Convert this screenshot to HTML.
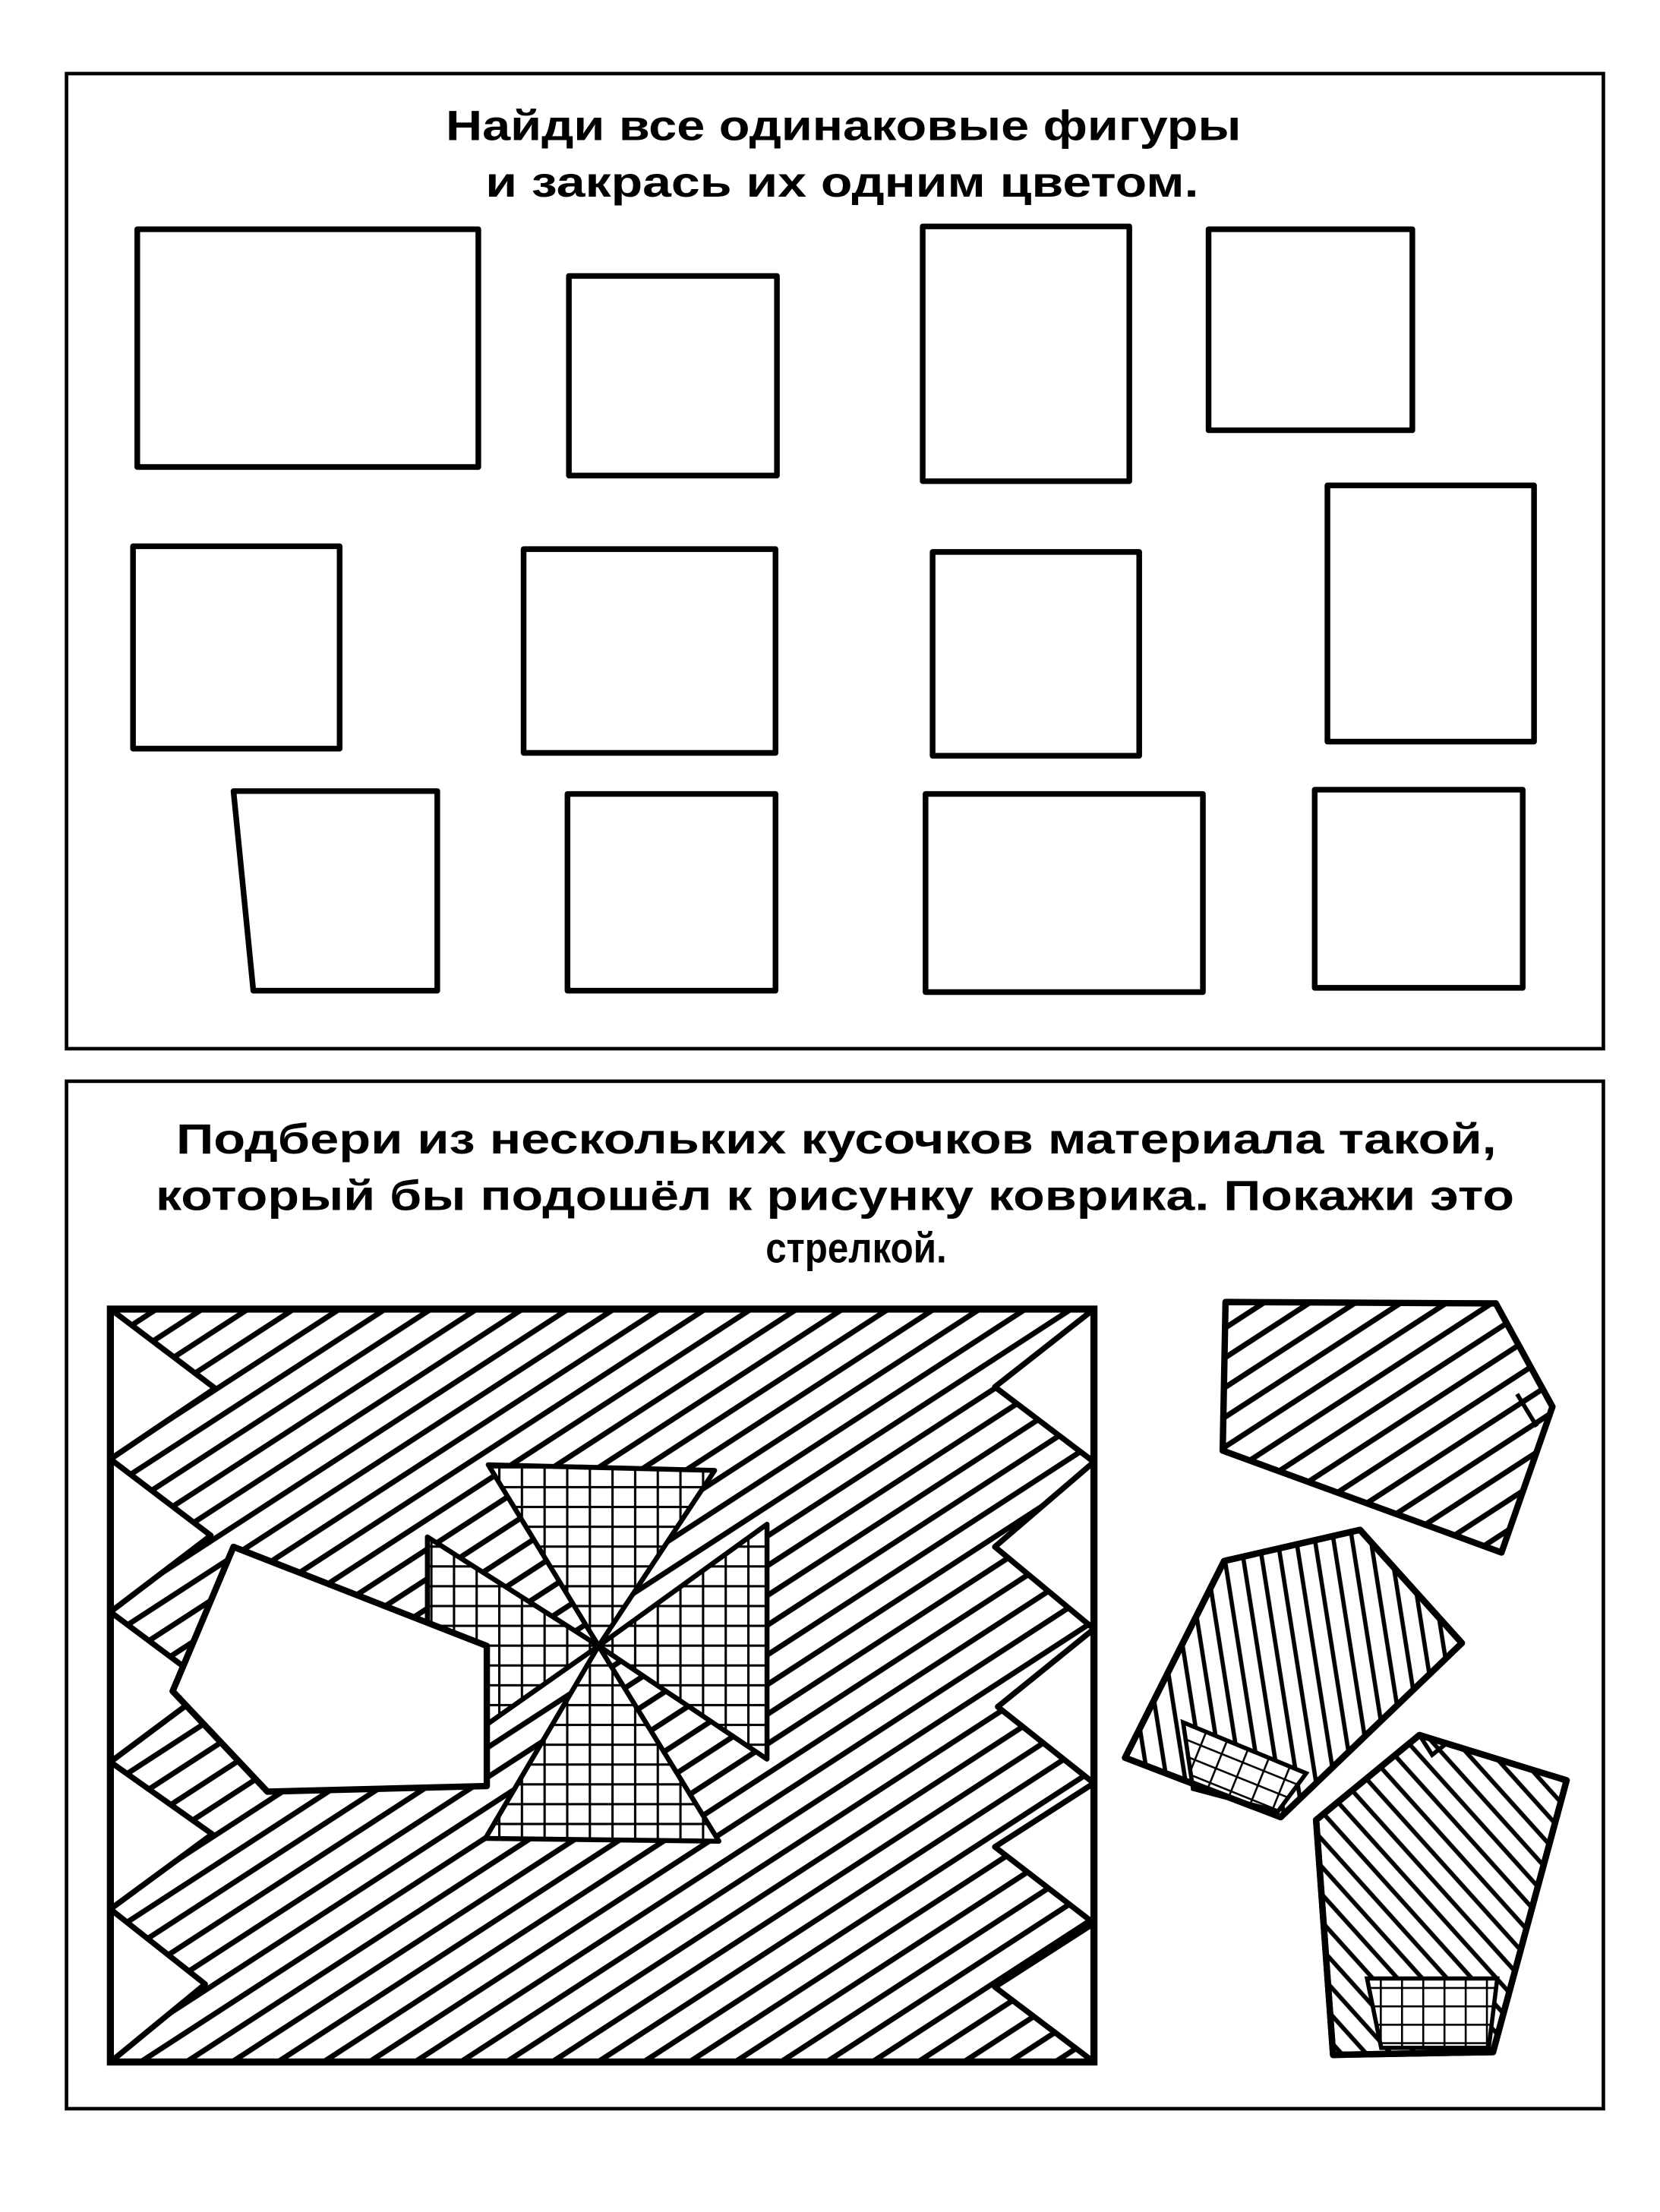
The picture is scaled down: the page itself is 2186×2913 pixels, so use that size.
<!DOCTYPE html>
<html><head><meta charset="utf-8"><style>
html,body{margin:0;padding:0;background:#fff;}
svg{display:block;}
text{font-family:"Liberation Sans","DejaVu Sans",sans-serif;font-weight:bold;fill:#000;}
</style></head><body>
<svg width="2186" height="2913" viewBox="0 0 1173 1563" preserveAspectRatio="none" xmlns="http://www.w3.org/2000/svg">
<defs>
<pattern id="h1" patternUnits="userSpaceOnUse" width="40" height="17.6" patternTransform="rotate(-33)">
<rect width="40" height="17.6" fill="#fff"/><line x1="0" y1="8.8" x2="40" y2="8.8" stroke="#000" stroke-width="3.8"/></pattern>
<pattern id="hv" patternUnits="userSpaceOnUse" width="13" height="40" patternTransform="rotate(-9)">
<rect width="13" height="40" fill="#fff"/><line x1="6.5" y1="0" x2="6.5" y2="40" stroke="#000" stroke-width="3"/></pattern>
<pattern id="hb" patternUnits="userSpaceOnUse" width="40" height="13" patternTransform="rotate(48)">
<rect width="40" height="13" fill="#fff"/><line x1="0" y1="6.5" x2="40" y2="6.5" stroke="#000" stroke-width="3"/></pattern>
<pattern id="g" patternUnits="userSpaceOnUse" width="16" height="14">
<rect width="16" height="14" fill="#fff"/><path d="M0 0H16M0 0V14" stroke="#000" stroke-width="3.3" fill="none"/></pattern>
<pattern id="g2" patternUnits="userSpaceOnUse" width="16" height="11" patternTransform="rotate(22)">
<rect width="16" height="11" fill="#fff"/><path d="M0 0H16M0 0V11" stroke="#000" stroke-width="2.8" fill="none"/></pattern>
<pattern id="g3" patternUnits="userSpaceOnUse" width="15" height="13">
<rect width="15" height="13" fill="#fff"/><path d="M0 0H15M0 0V13" stroke="#000" stroke-width="2.8" fill="none"/></pattern>
</defs>
<rect width="1173" height="1563" fill="#fff"/>
<rect x="47" y="52" width="1086" height="689" fill="none" stroke="#000" stroke-width="2.5"/>
<text x="596" y="99" font-size="30" text-anchor="middle" textLength="562" lengthAdjust="spacingAndGlyphs">Найди все одинаковые фигуры</text>
<text x="595" y="139" font-size="30" text-anchor="middle" textLength="504" lengthAdjust="spacingAndGlyphs">и закрась их одним цветом.</text>
<g fill="none" stroke="#000" stroke-width="4" stroke-linejoin="round">
<rect x="97" y="162" width="241" height="168"/>
<rect x="402" y="195" width="147" height="141"/>
<rect x="652" y="160" width="146" height="180"/>
<rect x="854" y="162" width="144" height="142"/>
<rect x="94" y="386" width="146" height="143"/>
<rect x="370" y="388" width="178" height="144"/>
<rect x="659" y="390" width="146" height="144"/>
<rect x="938" y="343" width="146" height="181"/>
<polygon points="165,559 309,559 309,700 179,700"/>
<rect x="401" y="561" width="147" height="139"/>
<rect x="654" y="561" width="196" height="140"/>
<rect x="929" y="558" width="147" height="140"/>
</g>
<rect x="47" y="764" width="1086" height="726" fill="none" stroke="#000" stroke-width="2.5"/>
<text x="591" y="815" font-size="30" text-anchor="middle" textLength="933" lengthAdjust="spacingAndGlyphs">Подбери из нескольких кусочков материала такой,</text>
<text x="590" y="855" font-size="30" text-anchor="middle" textLength="960" lengthAdjust="spacingAndGlyphs">который бы подошёл к рисунку коврика. Покажи это</text>
<text x="605" y="892" font-size="30" text-anchor="middle" textLength="128" lengthAdjust="spacingAndGlyphs">стрелкой.</text>
<rect x="78" y="925" width="695" height="532" fill="url(#h1)"/>
<g fill="#fff" stroke="#000" stroke-width="4" stroke-linejoin="round">
<polygon points="78,925 152,981 78,1031"/>
<polygon points="78,1031 149,1085 78,1139"/>
<polygon points="78,1139 149,1192 78,1245"/>
<polygon points="78,1245 150,1296 78,1349"/>
<polygon points="78,1349 145,1402 78,1457"/>
<polygon points="773,925 703,980 773,1033"/>
<polygon points="773,1033 703,1093 773,1151"/>
<polygon points="773,1151 705,1206 773,1260"/>
<polygon points="773,1260 703,1305 773,1359"/>
<polygon points="773,1359 703,1404 773,1457"/>
</g>
<g fill="url(#g)" stroke="#000" stroke-width="3.5" stroke-linejoin="round">
<polygon points="302,1086 423,1163 302,1248"/>
<polygon points="542,1077 423,1163 542,1243"/>
<polygon points="345,1035 505,1039 423,1163"/>
<polygon points="423,1163 508,1301 343,1299"/>
</g>
<polygon points="165,1093 344,1163 344,1262 189,1266 122,1195" fill="#fff" stroke="#000" stroke-width="4.5" stroke-linejoin="round"/>
<rect x="78" y="925" width="695" height="532" fill="none" stroke="#000" stroke-width="5"/>
<polygon points="866,920 1057,921 1097,994 1061,1097 864,1025" fill="url(#h1)" stroke="#000" stroke-width="4.5" stroke-linejoin="round"/>
<path d="M1072,985 L1086,1008" stroke="#000" stroke-width="3"/>
<polygon points="865,1103 961,1081 1033,1161 905,1284 795,1242" fill="url(#hv)" stroke="#000" stroke-width="4.5" stroke-linejoin="round"/>
<polygon points="836,1217 923,1253 903,1280 843,1264" fill="url(#g2)" stroke="#000" stroke-width="3"/>
<polygon points="865,1103 961,1081 1033,1161 905,1284 795,1242" fill="none" stroke="#000" stroke-width="4.5" stroke-linejoin="round"/>
<polygon points="930,1286 1003,1226 1107,1258 1055,1450 942,1452" fill="url(#hb)" stroke="#000" stroke-width="4.5" stroke-linejoin="round"/>
<polygon points="966,1398 1058,1398 1052,1447 976,1447" fill="url(#g3)" stroke="#000" stroke-width="3"/>
<polygon points="930,1286 1003,1226 1107,1258 1055,1450 942,1452" fill="none" stroke="#000" stroke-width="4.5" stroke-linejoin="round"/>
<path d="M1003,1226 L1012,1240 L1022,1232" fill="none" stroke="#000" stroke-width="3"/>
</svg>
</body></html>
